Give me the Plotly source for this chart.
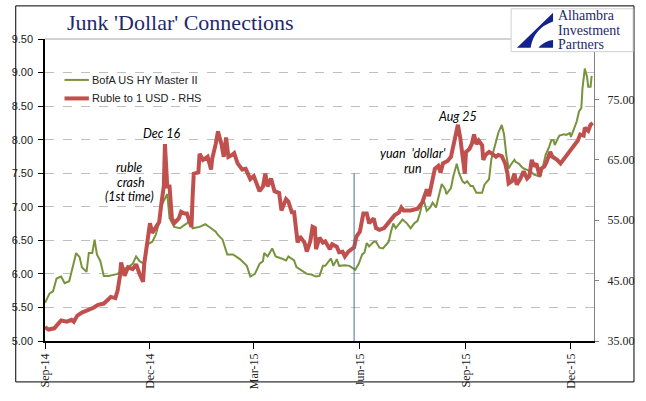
import plotly.graph_objects as go
import pandas as pd

# ---------------- data ----------------
start_date = "2014-09-01"

hy_days = [0,4,7,10,14,17,21,24,27,30,32,36,38,41,43,45,48,51,55,63,68,72,76,79,82,86,89,93,96,99,101,106,108,112,117,121,123,125,128,134,139,144,148,150,154,158,163,169,175,178,182,186,189,190,193,197,200,205,209,211,216,218,222,227,231,235,238,241,243,246,248,250,253,255,260,264,269,272,275,277,279,281,285,287,290,293,298,300,302,304,307,310,314,317,320,323,325,328,331,334,336,339,341,344,347,348,352,354,357,359,362,364,366,369,371,374,376,379,381,385,387,391,393,396,398,400,402,404,407,408,411,413,415,418,421,424,426,429,431,434,437,439,441,442,445,446,450,452,455,456,458,461,463,465,466,467,468,470,471,473,474]
hy_vals = [5.57,5.71,5.74,5.93,5.96,5.86,5.89,6.10,6.31,6.25,6.10,6.03,6.31,6.31,6.51,6.29,6.19,5.97,5.97,6.00,6.07,6.10,6.15,6.26,6.19,6.15,6.44,6.48,6.58,6.77,7.02,7.19,6.83,6.70,6.68,6.73,6.75,6.80,6.68,6.70,6.74,6.68,6.63,6.58,6.51,6.29,6.29,6.22,6.12,5.96,6.00,6.15,6.19,6.31,6.26,6.38,6.26,6.23,6.20,6.26,6.20,6.10,6.05,6.00,5.99,5.96,5.97,6.12,6.12,6.18,6.23,6.12,6.22,6.12,6.13,6.12,6.06,6.15,6.29,6.32,6.46,6.41,6.48,6.48,6.39,6.38,6.48,6.63,6.75,6.68,6.75,6.81,6.75,6.68,6.75,6.79,6.90,7.12,6.94,6.99,7.06,6.99,7.13,7.34,7.26,7.19,7.28,7.45,7.64,7.50,7.38,7.35,7.38,7.31,7.31,7.21,7.21,7.21,7.33,7.41,7.71,8.00,8.10,8.22,8.08,7.77,7.57,7.63,7.70,7.67,7.64,7.60,7.57,7.55,7.53,7.48,7.47,7.45,7.55,7.77,7.89,7.99,7.99,7.92,8.03,8.06,8.08,8.07,8.10,8.04,8.13,8.27,8.42,8.47,8.76,8.90,9.06,8.93,8.79,8.79,8.95]

rub_days = [0,3,8,14,19,23,25,28,32,38,42,46,51,55,57,61,63,65,66,69,72,76,79,82,85,86,89,91,93,96,99,101,103,104,106,108,110,112,116,118,121,123,127,128,129,133,134,137,141,144,145,148,150,153,155,157,159,162,164,167,171,174,178,181,183,186,189,191,193,196,199,203,205,209,211,214,216,219,221,225,227,230,232,234,235,238,241,243,247,249,253,255,258,260,263,266,268,270,273,276,279,281,285,287,290,294,298,303,307,309,311,317,323,327,330,331,333,336,338,341,343,345,349,352,355,358,360,362,363,364,365,368,370,372,374,376,379,380,382,385,387,391,393,396,399,401,402,405,407,409,412,415,418,420,422,424,426,429,430,433,435,438,440,444,447,450,453,456,459,462,464,467,468,471,473,475]
rub_vals = [37.3,36.9,37.1,38.4,38.2,38.5,38.2,39.2,39.7,40.1,40.5,41.0,41.2,41.9,42.3,42.1,43.4,45.8,48.0,45.8,47.2,46.9,47.7,46.1,44.8,47.7,51.5,54.5,52.9,53.9,54.7,57.9,60.6,67.6,60.6,60.6,55.3,54.5,55.3,56.4,56.1,56.1,53.9,59.0,62.7,62.9,66.0,65.0,65.5,63.4,65.2,67.6,69.7,67.6,65.5,68.7,65.5,65.8,66.1,64.4,63.4,63.5,61.8,62.3,61.1,59.8,60.6,62.7,60.6,61.9,59.8,59.5,56.6,58.5,58.1,56.3,56.3,51.3,52.3,51.3,49.8,51.5,53.9,53.7,50.2,52.1,51.3,51.5,50.2,51.0,50.6,49.7,49.8,49.0,49.8,50.2,50.5,52.3,53.1,56.1,56.1,54.5,55.3,53.7,53.4,53.7,54.7,55.8,56.3,57.1,56.6,56.6,56.9,57.9,59.5,60.1,59.0,61.5,63.5,64.0,62.9,64.4,64.8,65.5,68.2,70.8,68.7,65.5,65.2,62.7,66.3,66.8,67.6,69.2,67.6,68.2,67.4,65.0,65.8,66.3,66.1,65.5,65.8,65.6,64.4,62.7,61.1,61.5,62.7,60.9,61.8,63.1,61.9,62.3,65.0,63.9,64.4,62.3,63.5,63.9,64.7,66.3,65.5,65.0,64.4,65.2,65.8,66.6,67.6,68.2,69.2,69.0,70.3,69.8,70.8,71.1]

x_tick_dates = ["2014-09-01", "2014-12-01", "2015-03-01", "2015-06-01", "2015-09-01", "2015-12-01"]
x_tick_labels = ["Sep-14", "Dec-14", "Mar-15", "Jun-15", "Sep-15", "Dec-15"]
left_ticks = [5.0, 5.5, 6.0, 6.5, 7.0, 7.5, 8.0, 8.5, 9.0, 9.5]
right_ticks = [35, 45, 55, 65, 75]
marker_date = "2015-05-27"

series_names = ["BofA US HY Master II", "Ruble to 1 USD - RHS"]

start = pd.Timestamp(start_date)
hy_dates = start + pd.to_timedelta(hy_days, unit="D")
rub_dates = start + pd.to_timedelta(rub_days, unit="D")

GREEN = "#77933C"
RED = "#C0504D"
NAVY = "#1F2A6B"

# pixel -> paper helpers (plot area: x 35..598, y 39..349)
def fx(px):
    return (px - 35) / 563.0

def fy(py):
    return (349 - py) / 310.0

fig = go.Figure()
fig.add_trace(go.Scatter(x=hy_dates, y=hy_vals, mode="lines", name=series_names[0],
                         line=dict(color=GREEN, width=2), yaxis="y"))
fig.add_trace(go.Scatter(x=rub_dates, y=rub_vals, mode="lines", name=series_names[1],
                         line=dict(color=RED, width=4), yaxis="y2"))

shapes = []
# outer frame
shapes.append(dict(type="rect", xref="paper", yref="paper", x0=fx(5), x1=fx(639), y0=fy(391), y1=fy(5),
                   line=dict(color="black", width=1), fillcolor="rgba(0,0,0,0)", layer="below"))
# top border of plot area
shapes.append(dict(type="line", xref="paper", yref="paper", x0=0, x1=1, y0=1, y1=1,
                   line=dict(color="#A6A6A6", width=1)))
# vertical marker line
shapes.append(dict(type="line", xref="x", yref="y", x0=marker_date, x1=marker_date, y0=5.0, y1=7.5,
                   line=dict(color="#4F6F99", width=1)))
# legend samples
shapes.append(dict(type="line", xref="paper", yref="paper", x0=fx(55), x1=fx(80), y0=fy(81), y1=fy(81),
                   line=dict(color=GREEN, width=2)))
shapes.append(dict(type="line", xref="paper", yref="paper", x0=fx(55), x1=fx(80), y0=fy(100), y1=fy(100),
                   line=dict(color=RED, width=4)))
# logo box
shapes.append(dict(type="rect", xref="paper", yref="paper", x0=fx(513), x1=fx(638), y0=fy(52), y1=fy(8),
                   line=dict(color="#D0D0D0", width=1), fillcolor="white"))
# logo symbol
def P(px, py):
    return f"{fx(px):.5f},{fy(py):.5f}"
path1 = (f"M {P(519,48)} L {P(556,12)} L {P(556,21)} "
         f"Q {P(536,28)} {P(533,48)} Z")
path2 = f"M {P(541,48)} Q {P(547,41)} {P(556,40)} L {P(556,48)} Z"
for pth in (path1, path2):
    shapes.append(dict(type="path", xref="paper", yref="paper", path=pth,
                       fillcolor="#14228C", line=dict(width=0)))

annotations = []
def txt(text, px, py, size, color="black", family="Lato", italic=False, xanchor="center"):
    t = f"<i>{text}</i>" if italic else text
    annotations.append(dict(text=t, xref="paper", yref="paper", x=fx(px), y=fy(py),
                            xanchor=xanchor, yanchor="middle", showarrow=False,
                            font=dict(size=size, color=color, family=family)))

# title
txt("Junk 'Dollar' Connections", 174, 22, 22, color=NAVY, family="Liberation Serif")
# logo text
txt("Alhambra", 559, 15, 14, color=NAVY, family="Liberation Serif", xanchor="left")
txt("Investment", 559, 30, 14, color=NAVY, family="Liberation Serif", xanchor="left")
txt("Partners", 559, 45, 14, color=NAVY, family="Liberation Serif", xanchor="left")
# legend text
txt(series_names[0], 81, 81, 11, color="#222222", family="Liberation Sans", xanchor="left")
txt(series_names[1], 81, 100, 11, color="#222222", family="Liberation Sans", xanchor="left")
# chart annotations
txt("Dec 16", 155, 136, 12.5, italic=True)
txt("ruble", 121, 171, 12.5, italic=True)
txt("crash", 123, 186, 12.5, italic=True)
txt("(1st time)", 122, 201, 12.5, italic=True)
txt("Aug 25", 458, 119, 12.5, italic=True)
txt("yuan  'dollar'", 412, 157, 12.5, italic=True)
txt("run", 412, 172, 12.5, italic=True)

fig.update_layout(
    width=646, height=401, autosize=False,
    margin=dict(l=35, r=48, t=39, b=52),
    paper_bgcolor="white", plot_bgcolor="white",
    showlegend=False,
    shapes=shapes, annotations=annotations,
    xaxis=dict(
        type="date", range=["2014-09-01", "2015-12-21"],
        tickvals=x_tick_dates, ticktext=x_tick_labels, tickangle=-90,
        ticks="outside", ticklen=6, tickcolor="black", tickwidth=1,
        showline=True, linecolor="black", linewidth=1.5,
        showgrid=False, zeroline=False,
        tickfont=dict(family="Liberation Serif", size=12, color="#222222"),
    ),
    yaxis=dict(
        range=[5.0, 9.5], tickvals=left_ticks, tickformat=".2f",
        ticks="outside", ticklen=5, tickcolor="black",
        showline=True, linecolor="black", linewidth=1.5,
        showgrid=True, gridcolor="#BFBFBF", griddash="dash", gridwidth=1,
        zeroline=False, ticklabelstandoff=3,
        tickfont=dict(family="Liberation Sans", size=11, color="#222222"),
    ),
    yaxis2=dict(
        range=[35, 85], tickvals=right_ticks, ticktext=[f"{v:.2f}" for v in right_ticks],
        overlaying="y", side="right",
        ticks="outside", ticklen=4, tickcolor="#808080",
        showline=True, linecolor="#808080", linewidth=1,
        showgrid=False, zeroline=False, ticklabelstandoff=6,
        tickfont=dict(family="Liberation Serif", size=12, color="#222222"),
    ),
)

fig.write_html("out.html")
